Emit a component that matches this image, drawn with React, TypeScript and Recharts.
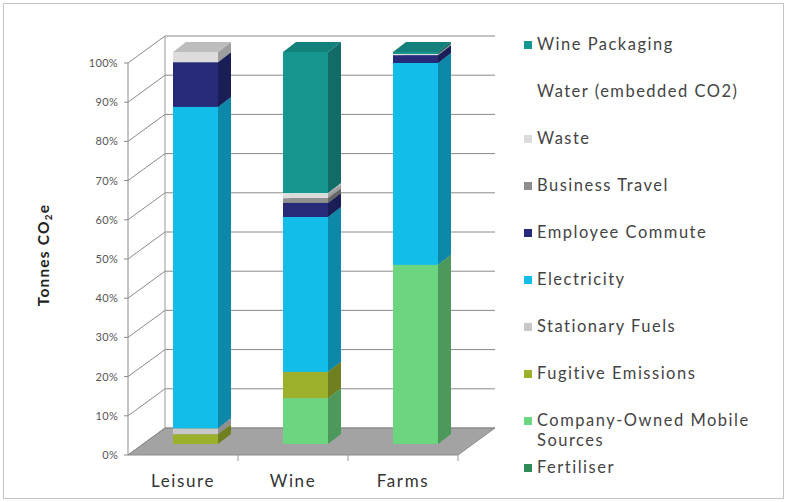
import { Bar, BarChart, CartesianGrid, XAxis, YAxis } from 'recharts'

const categories = ['Leisure', 'Wine', 'Farms']

// stack order, bottom to top (percent of total)
const fertiliser = [0, 0, 0]
const companyOwnedMobile = [0, 11.7, 45.7]
const fugitiveEmissions = [2.5, 6.7, 0]
const stationaryFuels = [1.5, 0, 0]
const electricity = [82, 39.5, 51.5]
const employeeCommute = [11.4, 3.6, 2]
const businessTravel = [0, 1.2, 0]
const waste = [2.6, 1.0, 0.3]
const water = [0, 0.3, 0]
const winePackaging = [0, 36, 0.5]

const yTicks = [0, 10, 20, 30, 40, 50, 60, 70, 80, 90, 100]

const series = [
  { key: 'fertiliser', name: 'Fertiliser', values: fertiliser, color: '#2f8b57' },
  { key: 'companyOwnedMobile', name: 'Company-Owned Mobile Sources', values: companyOwnedMobile, color: '#6bd57f' },
  { key: 'fugitiveEmissions', name: 'Fugitive Emissions', values: fugitiveEmissions, color: '#9cb02c' },
  { key: 'stationaryFuels', name: 'Stationary Fuels', values: stationaryFuels, color: '#c8c8c8' },
  { key: 'electricity', name: 'Electricity', values: electricity, color: '#12bdea' },
  { key: 'employeeCommute', name: 'Employee Commute', values: employeeCommute, color: '#262a78' },
  { key: 'businessTravel', name: 'Business Travel', values: businessTravel, color: '#8f8f8f' },
  { key: 'waste', name: 'Waste', values: waste, color: '#dcdcdc' },
  { key: 'water', name: 'Water (embedded CO2)', values: water, color: '#ffffff' },
  { key: 'winePackaging', name: 'Wine Packaging', values: winePackaging, color: '#17958f' },
]

const data = categories.map((c, i) => {
  const row: Record<string, string | number> = { category: c }
  series.forEach((s) => (row[s.key] = s.values[i]))
  return row
})

const FONT = 'Lato, "Noto Sans", sans-serif'
const W = 787
const H = 502
const PLOT_TOP = 63
const PLOT_BOTTOM = 455
const WALL = { x: 37, y: -27 } // depth of the back wall
const BAR_OFF = { x: 12, y: -11 } // bar front plane
const BAR_D = { x: 13, y: -10 } // bar depth

function shade(hex: string, f: number) {
  const n = parseInt(hex.slice(1), 16)
  const r = Math.round(((n >> 16) & 255) * f)
  const g = Math.round(((n >> 8) & 255) * f)
  const b = Math.round((n & 255) * f)
  return `rgb(${Math.min(r, 255)},${Math.min(g, 255)},${Math.min(b, 255)})`
}

function Bar3D(props: any) {
  const { x, y, width, height, fill } = props
  if (!height || height <= 0) return <g />
  const x0 = x + BAR_OFF.x
  const y0 = y + BAR_OFF.y
  const x1 = x0 + width
  const y1 = y0 + height
  const { x: dx, y: dy } = BAR_D
  const edge = fill === '#ffffff' ? '#dddddd' : 'none'
  return (
    <g>
      <rect x={x0} y={y0} width={width} height={height} fill={fill} stroke={edge} strokeWidth={0.5} />
      <polygon
        points={`${x1},${y0} ${x1 + dx},${y0 + dy} ${x1 + dx},${y1 + dy} ${x1},${y1}`}
        fill={shade(fill, 0.72)}
      />
      <polygon
        points={`${x0},${y0} ${x0 + dx},${y0 + dy} ${x1 + dx},${y0 + dy} ${x1},${y0}`}
        fill={shade(fill, 0.86)}
      />
    </g>
  )
}

function GridLine(p: any) {
  const { x1, x2, y1 } = p
  const bx = x1 + WALL.x
  const by = y1 + WALL.y
  const isFloor = y1 > PLOT_BOTTOM - 2
  const isTop = y1 < PLOT_TOP + 2
  return (
    <g key={p.key ?? y1}>
      {isFloor && (
        <g>
          <polygon
            points={`${x1},${y1} ${bx},${by} ${x2 + WALL.x},${by} ${x2},${y1}`}
            fill="#a3a3a3"
            stroke="#8c8c8c"
            strokeWidth={1}
          />
          {[1, 2, 3].map((i) => {
            const tx = x1 + ((x2 - x1) * i) / 3
            return <line key={i} x1={tx} y1={y1} x2={tx} y2={y1 + 6} stroke="#999" />
          })}
        </g>
      )}
      {isTop && <line x1={bx} y1={by} x2={bx} y2={PLOT_BOTTOM + WALL.y} stroke="#999" strokeWidth={1} />}
      <polyline
        points={`${x1},${y1} ${bx},${by} ${x2 + WALL.x},${by}`}
        fill="none"
        stroke="#8a8a8a"
        strokeWidth={1}
      />
    </g>
  )
}

function AxisTitle() {
  const cx = 45
  const cy = 255
  return (
    <text
      x={cx}
      y={cy}
      transform={`rotate(-90, ${cx}, ${cy})`}
      textAnchor="middle"
      dominantBaseline="middle"
      fontFamily={FONT}
      fontWeight={700}
      fontSize={15.5}
      letterSpacing={1.2}
      fill="#222"
    >
      Tonnes CO<tspan fontSize={10} dy={4}>2</tspan>
      <tspan dy={-4}>e</tspan>
    </text>
  )
}

export default function App() {
  const legendItems = [...series].reverse()
  return (
    <div
      style={{
        position: 'absolute',
        left: 0,
        top: 0,
        width: W,
        height: H,
        background: '#fff',
        fontFamily: FONT,
      }}
    >
      <div
        style={{
          position: 'absolute',
          left: 3,
          top: 3,
          width: W - 8,
          height: H - 8,
          border: '1px solid #c4c4c4',
        }}
      />
      <BarChart
        width={W}
        height={H}
        data={data}
        margin={{ top: PLOT_TOP, right: 329, bottom: 17, left: 48 }}
        style={{ position: 'absolute', left: 0, top: 0 }}
      >
        <CartesianGrid vertical={false} horizontal={(p: any) => <GridLine {...p} />} />
        <XAxis
          dataKey="category"
          height={30}
          axisLine={false}
          tickLine={false}
          tickMargin={14}
          tick={{ fill: '#333', fontSize: 17, fontFamily: FONT, letterSpacing: 1.6 }}
        />
        <YAxis
          width={80}
          domain={[0, 100]}
          ticks={yTicks}
          interval={0}
          tickFormatter={(v: number) => `${v}%`}
          axisLine={{ stroke: '#888' }}
          tickLine={{ stroke: '#888' }}
          tickSize={4}
          tickMargin={6}
          tick={{ fill: '#555', fontSize: 11, fontFamily: FONT, letterSpacing: 0.3 }}
          label={{ content: () => <AxisTitle /> }}
        />
        {series.map((s) => (
          <Bar
            key={s.key}
            dataKey={s.key}
            name={s.name}
            stackId="a"
            fill={s.color}
            barSize={45}
            isAnimationActive={false}
            shape={(bp: any) => <Bar3D {...bp} fill={s.color} />}
          />
        ))}
      </BarChart>
      <div style={{ position: 'absolute', left: 524, top: 0 }}>
        {legendItems.map((s, i) => (
          <div
            key={s.key}
            style={{
              position: 'absolute',
              top: 34 + i * 47,
              left: 0,
              width: 258,
              display: 'flex',
              alignItems: 'flex-start',
              fontSize: 16.5,
              letterSpacing: 1.5,
              lineHeight: '20px',
              color: '#444',
            }}
          >
            <span
              style={{
                display: 'inline-block',
                width: 8,
                height: 8,
                marginTop: 7,
                marginRight: 5,
                flex: '0 0 auto',
                background: s.color,
              }}
            />
            <span>{s.name}</span>
          </div>
        ))}
      </div>
    </div>
  )
}
